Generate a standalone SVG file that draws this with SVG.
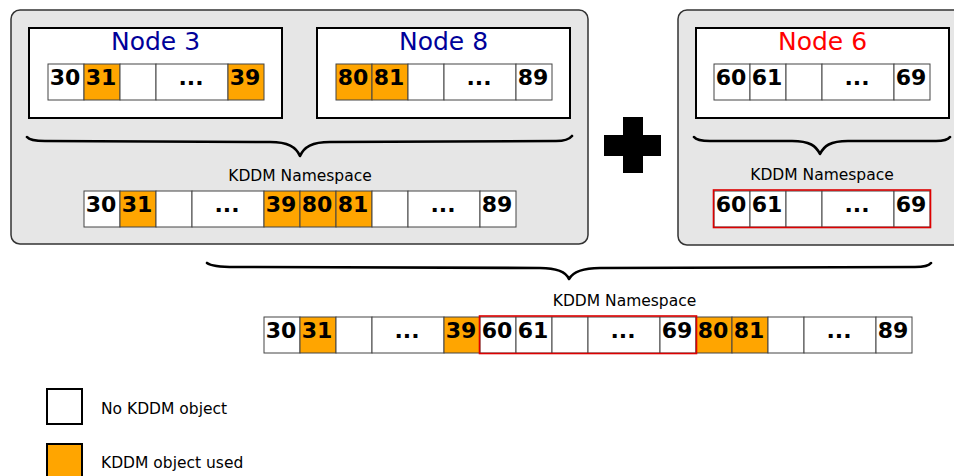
<svg xmlns="http://www.w3.org/2000/svg" width="954" height="476" viewBox="0 0 954 476">
  <style>
    .panel { fill: #e6e6e6; stroke: #333333; stroke-width: 1.5; }
    .node { fill: #ffffff; stroke: #000000; stroke-width: 2; }
    .cell { fill: #ffffff; stroke: #444444; stroke-width: 1; }
    .used { fill: #ffa500; }
    .num { font-family: "DejaVu Sans", sans-serif; font-weight: bold; font-size: 22px; fill: #000000; text-anchor: middle; }
    .title { font-family: "DejaVu Sans", sans-serif; font-size: 25px; text-anchor: middle; }
    .label { font-family: "DejaVu Sans", sans-serif; font-size: 15.5px; fill: #000000; }
    .mid { text-anchor: middle; }
    .brace { fill: none; stroke: #000000; stroke-width: 2.6; stroke-linecap: round; stroke-linejoin: round; }
    .merge { fill: none; stroke: #dd0000; stroke-width: 1.6; }
  </style>

  <!-- left group: nodes 3 and 8 with their combined namespace -->
  <g id="panel-left">
    <rect class="panel" x="11" y="10" width="577" height="234" rx="9"/>
  </g>

  <g id="node-3">
    <rect class="node" x="29" y="28" width="253" height="90"/>
    <text class="title" x="155.5" y="50" fill="#000099">Node 3</text>
    <rect class="cell" x="48" y="64" width="36" height="36"/>
    <rect class="cell used" x="84" y="64" width="36" height="36"/>
    <rect class="cell" x="120" y="64" width="36" height="36"/>
    <rect class="cell" x="156" y="64" width="72" height="36"/>
    <rect class="cell used" x="228" y="64" width="36" height="36"/>
    <text class="num" x="65" y="85">30</text>
    <text class="num" x="101" y="85">31</text>
    <text class="num" x="191" y="85">...</text>
    <text class="num" x="245" y="85">39</text>
  </g>

  <g id="node-8">
    <rect class="node" x="317" y="28" width="253" height="90"/>
    <text class="title" x="443.5" y="50" fill="#000099">Node 8</text>
    <rect class="cell used" x="336" y="64" width="36" height="36"/>
    <rect class="cell used" x="372" y="64" width="36" height="36"/>
    <rect class="cell" x="408" y="64" width="36" height="36"/>
    <rect class="cell" x="444" y="64" width="72" height="36"/>
    <rect class="cell" x="516" y="64" width="36" height="36"/>
    <text class="num" x="353" y="85">80</text>
    <text class="num" x="389" y="85">81</text>
    <text class="num" x="479" y="85">...</text>
    <text class="num" x="533" y="85">89</text>
  </g>

  <g id="namespace-3-8">
    <text class="label mid" x="300" y="181">KDDM Namespace</text>
    <rect class="cell" x="84" y="191" width="36" height="36"/>
    <rect class="cell used" x="120" y="191" width="36" height="36"/>
    <rect class="cell" x="156" y="191" width="36" height="36"/>
    <rect class="cell" x="192" y="191" width="72" height="36"/>
    <rect class="cell used" x="264" y="191" width="36" height="36"/>
    <rect class="cell used" x="300" y="191" width="36" height="36"/>
    <rect class="cell used" x="336" y="191" width="36" height="36"/>
    <rect class="cell" x="372" y="191" width="36" height="36"/>
    <rect class="cell" x="408" y="191" width="72" height="36"/>
    <rect class="cell" x="480" y="191" width="36" height="36"/>
    <text class="num" x="101" y="212">30</text>
    <text class="num" x="137" y="212">31</text>
    <text class="num" x="227" y="212">...</text>
    <text class="num" x="281" y="212">39</text>
    <text class="num" x="317" y="212">80</text>
    <text class="num" x="353" y="212">81</text>
    <text class="num" x="443" y="212">...</text>
    <text class="num" x="497" y="212">89</text>
  </g>

  <!-- plus sign between the two groups -->
  <g id="plus">
    <rect x="604" y="135" width="57" height="21" fill="#000000"/>
    <rect x="623" y="117" width="20" height="56" fill="#000000"/>
  </g>

  <!-- right group: node 6 -->
  <g id="panel-right">
    <rect class="panel" x="678" y="10" width="290" height="235" rx="9"/>
  </g>

  <g id="node-6">
    <rect class="node" x="696" y="28" width="253" height="90"/>
    <text class="title" x="822.5" y="50" fill="#ff0000">Node 6</text>
    <rect class="cell" x="714" y="64" width="36" height="36"/>
    <rect class="cell" x="750" y="64" width="36" height="36"/>
    <rect class="cell" x="786" y="64" width="36" height="36"/>
    <rect class="cell" x="822" y="64" width="72" height="36"/>
    <rect class="cell" x="894" y="64" width="36" height="36"/>
    <text class="num" x="731" y="85">60</text>
    <text class="num" x="767" y="85">61</text>
    <text class="num" x="857" y="85">...</text>
    <text class="num" x="911" y="85">69</text>
  </g>

  <g id="namespace-6">
    <text class="label mid" x="822" y="180">KDDM Namespace</text>
    <rect class="cell" x="714" y="191" width="36" height="36"/>
    <rect class="cell" x="750" y="191" width="36" height="36"/>
    <rect class="cell" x="786" y="191" width="36" height="36"/>
    <rect class="cell" x="822" y="191" width="72" height="36"/>
    <rect class="cell" x="894" y="191" width="36" height="36"/>
    <rect class="merge" x="713.5" y="190" width="217" height="37.5"/>
    <text class="num" x="731" y="212">60</text>
    <text class="num" x="767" y="212">61</text>
    <text class="num" x="857" y="212">...</text>
    <text class="num" x="911" y="212">69</text>
  </g>

  <!-- merged namespace of all nodes -->
  <g id="namespace-all">
    <text class="label mid" x="624.5" y="306">KDDM Namespace</text>
    <rect class="cell" x="264" y="317" width="36" height="36"/>
    <rect class="cell used" x="300" y="317" width="36" height="36"/>
    <rect class="cell" x="336" y="317" width="36" height="36"/>
    <rect class="cell" x="372" y="317" width="72" height="36"/>
    <rect class="cell used" x="444" y="317" width="36" height="36"/>
    <rect class="cell" x="480" y="317" width="36" height="36"/>
    <rect class="cell" x="516" y="317" width="36" height="36"/>
    <rect class="cell" x="552" y="317" width="36" height="36"/>
    <rect class="cell" x="588" y="317" width="72" height="36"/>
    <rect class="cell" x="660" y="317" width="36" height="36"/>
    <rect class="cell used" x="696" y="317" width="36" height="36"/>
    <rect class="cell used" x="732" y="317" width="36" height="36"/>
    <rect class="cell" x="768" y="317" width="36" height="36"/>
    <rect class="cell" x="804" y="317" width="72" height="36"/>
    <rect class="cell" x="876" y="317" width="36" height="36"/>
    <rect class="merge" x="479.5" y="316" width="217" height="37.5"/>
    <text class="num" x="281" y="338">30</text>
    <text class="num" x="317" y="338">31</text>
    <text class="num" x="407" y="338">...</text>
    <text class="num" x="461" y="338">39</text>
    <text class="num" x="497" y="338">60</text>
    <text class="num" x="533" y="338">61</text>
    <text class="num" x="623" y="338">...</text>
    <text class="num" x="677" y="338">69</text>
    <text class="num" x="713" y="338">80</text>
    <text class="num" x="749" y="338">81</text>
    <text class="num" x="839" y="338">...</text>
    <text class="num" x="893" y="338">89</text>
  </g>

  <!-- curly braces joining the namespaces -->
  <g id="connectors">
    <path class="brace" d="M27 137 Q30 141 45 141 L270 142 C288 142 296 147 300 156 C304 147 312 142 330 142 L556 141 Q568 141 572 136"/>
    <path class="brace" d="M694 137 Q697 141 710 141 L792 141 C810 141 816 146 820 154 C824 146 830 141 848 141 L936 141 Q947 141 950 137"/>
    <path class="brace" d="M207 263 Q212 267 235 267 L540 268 C558 268 566 272 569 279 C573 272 582 268 600 268 L915 267 Q928 267 931 263"/>
  </g>

  <!-- legend -->
  <g id="legend">
    <rect x="47" y="389" width="35" height="35" fill="#ffffff" stroke="#000000" stroke-width="2"/>
    <text class="label" x="101" y="414">No KDDM object</text>
    <rect x="47" y="444" width="35" height="35" fill="#ffa500" stroke="#000000" stroke-width="2"/>
    <text class="label" x="101" y="468">KDDM object used</text>
  </g>
</svg>
